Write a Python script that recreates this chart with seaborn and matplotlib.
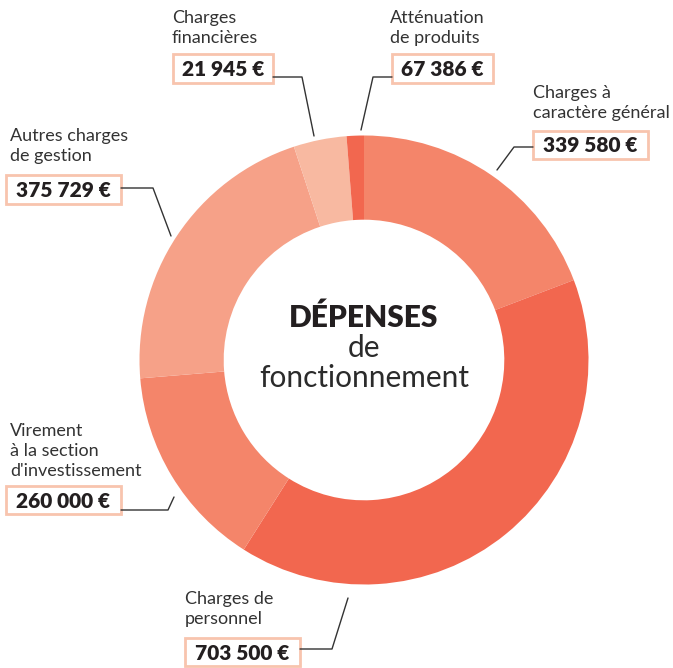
# Import libraries
import numpy as np
import matplotlib.pyplot as plt
import seaborn as sns
from matplotlib.patches import Rectangle

sns.set_theme(style="white")
plt.rcParams['font.family'] = ['Lato', 'DejaVu Sans']

# Data (wedges clockwise from 12 o'clock)
wedge_values = [339580, 703500, 260000, 375729, 67386, 21945]
wedge_colors = ['#F4856A', '#F2674F', '#F4856A', '#F6A188', '#F8B9A1', '#F2674F']

# Labels as they appear in the picture
label_names = ["Charges à\ncaractère général", "Charges de\npersonnel",
               "Virement\nà la section\nd'investissement", "Autres charges\nde gestion",
               "Charges\nfinancières", "Atténuation\nde produits"]
label_amounts = ["339 580 €", "703 500 €", "260 000 €", "375 729 €", "21 945 €", "67 386 €"]

# Layout in pixels (top-left origin): name position, box (x0, y0, w, h), leader line
name_pos = [(533, 85), (185, 591), (10, 423), (10, 128), (172, 10), (390, 10)]
boxes = [(533, 131, 115, 28), (185, 638, 115, 28), (6, 486, 115, 28),
         (6, 175, 115, 29), (173, 54, 100, 29), (392, 54, 101, 29)]
leaders = [[(533, 147), (514, 147), (497, 170)],
           [(300, 649), (332, 649), (348, 598)],
           [(121, 510), (168, 510), (174, 497)],
           [(121, 188), (153, 188), (171, 236)],
           [(273, 77), (302, 77), (314, 136)],
           [(392, 77), (373, 77), (361, 130)]]

W, H = 673, 668
fig = plt.figure(figsize=(W / 100, H / 100), dpi=100)
ax = fig.add_axes([0, 0, 1, 1])

# Donut
ax.pie(wedge_values, colors=wedge_colors, center=(364, 360), radius=224.5,
       startangle=-90, counterclock=True,
       wedgeprops=dict(width=224.5 * 0.375, edgecolor='none'))
ax.set_xlim(0, W)
ax.set_ylim(H, 0)
ax.axis('off')

# Centre title
ax.text(364, 318, "DÉPENSES", ha='center', va='center', fontsize=21.5,
        fontweight='heavy', color='#231F20')
ax.text(364, 348, "de", ha='center', va='center', fontsize=21.5,
        fontweight='normal', color='#2b2b2b')
ax.text(364, 378, "fonctionnement", ha='center', va='center', fontsize=21.5,
        fontweight='normal', color='#2b2b2b')

# Labels, boxed amounts and leader lines
for name, amount, (nx, ny), (bx, by, bw, bh), pts in zip(
        label_names, label_amounts, name_pos, boxes, leaders):
    ax.text(nx, ny, name, ha='left', va='top', fontsize=13,
            color='#333333', linespacing=1.32)
    ax.add_patch(Rectangle((bx, by), bw, bh, facecolor='white',
                           edgecolor='#F8C4AE', linewidth=2))
    ax.text(bx + bw / 2, by + bh / 2 + 1, amount, ha='center', va='center',
            fontsize=15, fontweight='heavy', color='#231F20')
    xs, ys = zip(*pts)
    ax.plot(xs, ys, color='#333333', linewidth=1)

plt.savefig('out.png', dpi=100)
